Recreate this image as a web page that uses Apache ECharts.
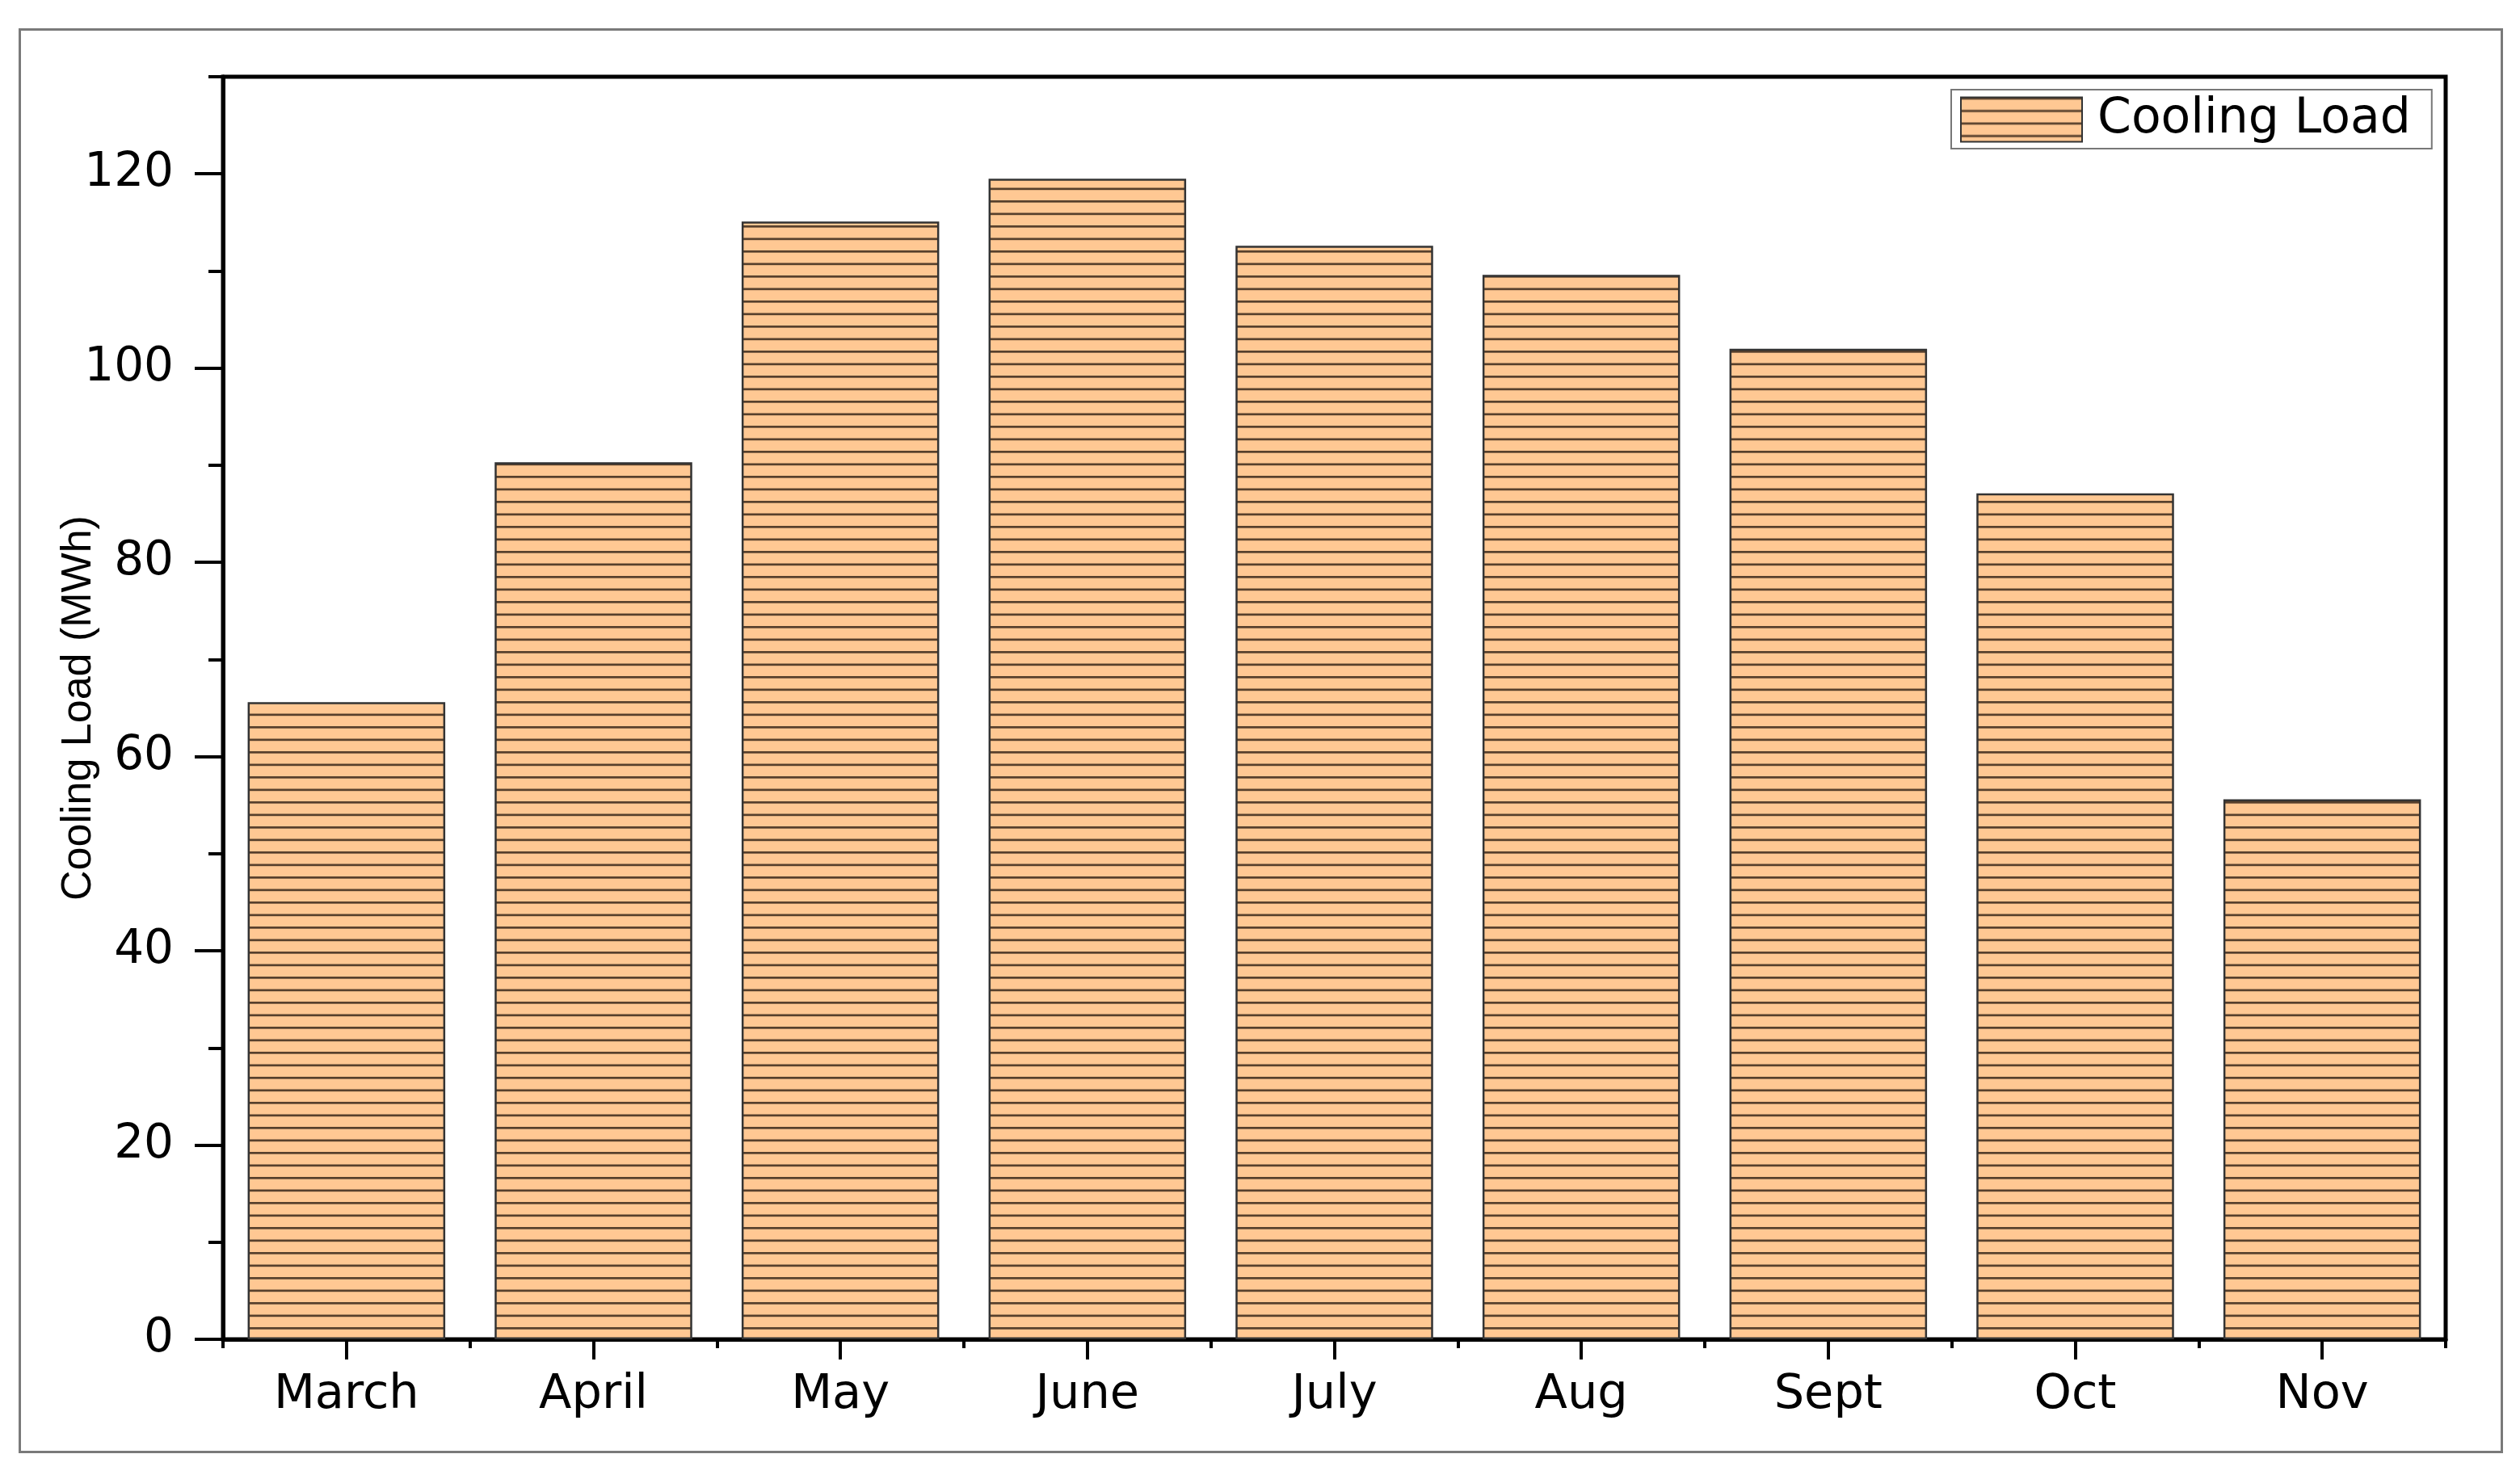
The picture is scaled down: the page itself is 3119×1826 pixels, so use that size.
<!DOCTYPE html>
<html><head><meta charset="utf-8">
<script src="https://cdn.jsdelivr.net/npm/echarts@6/dist/echarts.min.js"></script>
<style>html,body{margin:0;padding:0;background:#fff}#c{width:3119px;height:1826px}</style>
</head><body><div id="c"></div>
<script>
const months = ['March', 'April', 'May', 'June', 'July', 'Aug', 'Sept', 'Oct', 'Nov'];
const coolingLoad = [65.6, 90.3, 115.1, 119.5, 112.6, 109.6, 102.0, 87.1, 55.6];
const yMajorTicks = [0, 20, 40, 60, 80, 100, 120];
const yMinorTicks = [10, 30, 50, 70, 90, 110, 130];
const seriesName = 'Cooling Load';
const yAxisTitle = 'Cooling Load (MWh)';

function hatchPattern() {
  const c = document.createElement('canvas');
  c.width = 32; c.height = 31;
  const g = c.getContext('2d');
  g.fillStyle = '#FFC893';
  g.fillRect(0, 0, 32, 31);
  g.fillStyle = 'rgba(50,34,22,0.82)';
  g.fillRect(0, 0, 32, 2.7);
  g.fillRect(0, 15.5, 32, 2.7);
  return c;
}

const chart = echarts.init(document.getElementById('c'), null, {renderer: 'canvas'});
chart.setOption({
  animation: false,
  backgroundColor: '#fff',
  graphic: [{
    type: 'rect', left: 22, top: 34, silent: true, z: -10,
    shape: {width: 3072, height: 1761},
    style: {fill: 'none', stroke: '#7a7a7a', lineWidth: 3}
  }],
  grid: {left: 276, right: 92, top: 95, bottom: 168, show: true, borderColor: '#000', borderWidth: 5, backgroundColor: 'transparent'},
  legend: {
    data: [seriesName], left: 2415, top: 111, icon: 'rect',
    itemWidth: 150, itemHeight: 55,
    padding: [7, 26, 6, 11],
    borderColor: '#777', borderWidth: 2, backgroundColor: '#fff',
    textStyle: {fontFamily: 'DejaVu Sans', fontSize: 60, color: '#000', lineHeight: 55, padding: [0, 0, 0, 14]}
  },
  xAxis: [{
    type: 'category', data: months, position: 'bottom',
    axisLine: {show: true, lineStyle: {color: '#000', width: 5}},
    axisTick: {show: true, alignWithLabel: true, length: 25, lineStyle: {color: '#000', width: 4}},
    axisLabel: {margin: 40, fontFamily: 'DejaVu Sans', fontSize: 59, color: '#000'},
    splitLine: {show: false}
  }, {
    type: 'category', data: months, position: 'bottom',
    axisLine: {show: false},
    axisTick: {show: true, length: 11, lineStyle: {color: '#000', width: 4}},
    axisLabel: {show: false},
    splitLine: {show: false}
  }],
  yAxis: [{
    type: 'value', min: 0, max: 130, interval: 10, position: 'left',
    axisLine: {show: true, lineStyle: {color: '#000', width: 5}},
    axisTick: {show: true, length: 35, customValues: yMajorTicks, lineStyle: {color: '#000', width: 4}},
    axisLabel: {margin: 61, customValues: yMajorTicks, fontFamily: 'DejaVu Sans', fontSize: 58, color: '#000'},
    splitLine: {show: false},
    name: yAxisTitle, nameLocation: 'middle', nameGap: 152, nameMoveOverlap: false,
    nameTextStyle: {fontFamily: 'Liberation Sans', fontSize: 52, color: '#000'}
  }, {
    type: 'value', min: 0, max: 130, interval: 10, position: 'left',
    axisLine: {show: false},
    axisTick: {show: true, length: 18, customValues: yMinorTicks, lineStyle: {color: '#000', width: 4}},
    axisLabel: {show: false},
    splitLine: {show: false}
  }],
  series: [{
    name: seriesName, type: 'bar', data: coolingLoad,
    xAxisIndex: 0, yAxisIndex: 0, barWidth: '80%',
    itemStyle: {color: {image: hatchPattern(), repeat: 'repeat'}, borderColor: '#333', borderWidth: 2.5}
  }]
});
</script></body></html>
